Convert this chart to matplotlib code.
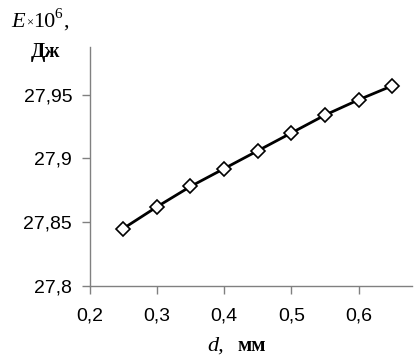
import matplotlib
matplotlib.use("Agg")
import matplotlib.pyplot as plt
from matplotlib.ticker import FuncFormatter

d_mm = [0.25, 0.30, 0.35, 0.40, 0.45, 0.50, 0.55, 0.60, 0.65]
energy = [27.845, 27.862, 27.878, 27.892, 27.906, 27.920, 27.934, 27.946, 27.957]
x_ticks = [0.2, 0.3, 0.4, 0.5, 0.6]
y_ticks = [27.8, 27.85, 27.9, 27.95]

W, H = 416, 357
fig = plt.figure(figsize=(W/100, H/100), dpi=100)
ax = fig.add_axes([89.5/W, 1-286/H, (412-89.5)/W, (286-47)/H])

ax.plot(d_mm, energy, color="black", lw=2, marker="D", markersize=7,
        markerfacecolor="white", markeredgecolor="black", markeredgewidth=1.2)

ax.set_xlim(0.2, 0.679)
ax.set_ylim(27.8, 27.9873)
ax.set_xticks(x_ticks)
ax.set_yticks(y_ticks)

def fmt(v, pos):
    s = ("%.2f" % v).rstrip("0").rstrip(".")
    return s.replace(".", ",")

ax.xaxis.set_major_formatter(FuncFormatter(fmt))
ax.yaxis.set_major_formatter(FuncFormatter(fmt))

for s in ["top", "right"]:
    ax.spines[s].set_visible(False)
for s in ["left", "bottom"]:
    ax.spines[s].set_color("#808080")
    ax.spines[s].set_linewidth(1.0)

ax.tick_params(direction="out", length=5.5, width=1.0, color="#808080",
               labelsize=14, labelcolor="black")
ax.tick_params(axis="x", pad=10)
ax.tick_params(axis="y", pad=7)
for lab in ax.get_xticklabels() + ax.get_yticklabels():
    lab.set_family("Liberation Sans")

serif = "Liberation Serif"
renderer = fig.canvas.get_renderer()

def chain(x0, y0, parts):
    """Place text parts one after another (pixel coords from top-left)."""
    x = x0
    for txt, size, style, weight, dy, gap in parts:
        x += gap
        t = fig.text(x / W, 1 - (y0 + dy) / H, txt, fontsize=size, family=serif,
                     style=style, weight=weight, va="baseline", ha="left")
        bb = t.get_window_extent(renderer)
        x += bb.width

# y-axis label: E x10^6,
chain(11, 27, [
    ("E", 16, "italic", "normal", 0, 0),
    ("×", 9, "normal", "normal", 0, 1),
    ("10", 16, "normal", "normal", 0, 0),
    ("6", 11, "normal", "normal", -9, 0),
    (",", 16, "normal", "normal", 0, 1),
])
fig.text(45 / W, 1 - 57 / H, "Дж", fontsize=15, family=serif, weight="bold",
         va="baseline", ha="center")

# x-axis label: d, мм
chain(207, 351, [
    ("d,", 16, "italic", "normal", 0, 0),
    ("мм", 15, "normal", "bold", 0, 14),
])

fig.savefig("out.png", dpi=100)
